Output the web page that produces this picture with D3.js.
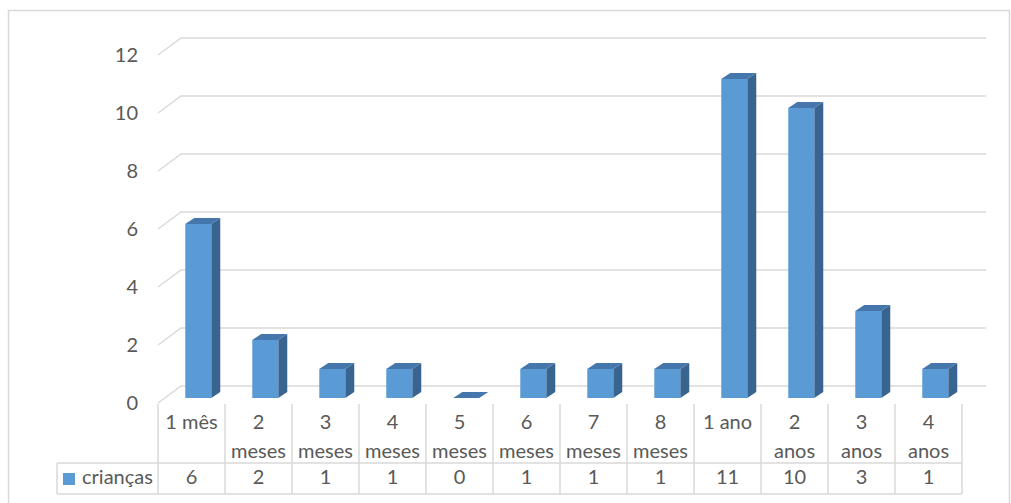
<!DOCTYPE html>
<html>
<head>
<meta charset="utf-8">
<script src="https://cdn.jsdelivr.net/npm/d3@7"></script>
<style>
  html, body { margin: 0; padding: 0; background: #fff; }
  svg { display: block; }
  text { font-family: Lato, "Open Sans", sans-serif; fill: #595959; }
</style>
</head>
<body>
<svg id="chart" width="1011" height="503"></svg>
<script>
// Chart data
const categories = ["1 mês", "2 meses", "3 meses", "4 meses", "5 meses", "6 meses",
                    "7 meses", "8 meses", "1 ano", "2 anos", "3 anos", "4 anos"];
const seriesName = "crianças";
const values = [6, 2, 1, 1, 0, 1, 1, 1, 11, 10, 3, 1];
const yTicks = [0, 2, 4, 6, 8, 10, 12];

const svg = d3.select("#chart");

const gridColor = "#D9D9D9";
const frontColor = "#5B9BD5";
const topColor = "#4677AC";
const sideColor = "#38648F";

// Outer chart border
svg.append("rect")
  .attr("x", 8.5).attr("y", 10.5)
  .attr("width", 1001).attr("height", 520)
  .attr("fill", "none").attr("stroke", gridColor).attr("stroke-width", 1.5);

// Layout: front plane (floor front edge / table) and 3D depth offset of the walls
const plotLeft = 158, plotRight = 962;
const wallDx = 23, wallDy = -17;     // back wall relative to front edge
const floorFrontY = 403;

// Category scale along the front edge (also the table columns)
const x = d3.scaleBand().domain(categories).range([plotLeft, plotRight]).padding(0);

// Value scale on the back wall
const yBack = d3.scaleLinear().domain([0, 12]).range([floorFrontY + wallDy, 38]);
const pxPerUnit = yBack(0) - yBack(1);

// Gridlines: diagonal on the side wall, horizontal along the back wall
const grid = svg.append("g").attr("stroke", gridColor).attr("stroke-width", 1.5).attr("fill", "none");
yTicks.forEach(t => {
  const yb = yBack(t);
  grid.append("path")
    .attr("d", `M${plotLeft},${yb - wallDy} L${plotLeft + wallDx},${yb} L${plotRight + wallDx + 1},${yb}`);
});

const fontSize = 20;

// Y axis labels on the front edge of the side wall
svg.append("g").selectAll("text").data(yTicks).join("text")
  .attr("x", 138)
  .attr("y", d => yBack(d) - wallDy + 2)
  .attr("text-anchor", "end")
  .attr("dominant-baseline", "middle")
  .attr("font-size", fontSize)
  .text(d => d);

// Bars: sit slightly behind the front floor edge
const barDepthFrac = 5 / 17;
const barShiftX = wallDx * barDepthFrac;
const barBaseY = floorFrontY + wallDy * barDepthFrac;
const barW = 26;
const bdx = 9, bdy = -6;   // bar's own depth

const bars = svg.append("g").selectAll("g").data(values).join("g");
bars.each(function(v, i) {
  const g = d3.select(this);
  const cx = x(categories[i]) + x.bandwidth() / 2 + barShiftX;
  const x0 = cx - barW / 2, x1 = cx + barW / 2;
  const yTop = barBaseY - v * pxPerUnit;
  const yBot = barBaseY;
  // right side face
  if (v > 0) {
    g.append("path")
      .attr("d", `M${x1},${yTop} L${x1 + bdx},${yTop + bdy} L${x1 + bdx},${yBot + bdy} L${x1},${yBot} Z`)
      .attr("fill", sideColor);
  }
  // top face
  g.append("path")
    .attr("d", `M${x0},${yTop} L${x0 + bdx},${yTop + bdy} L${x1 + bdx},${yTop + bdy} L${x1},${yTop} Z`)
    .attr("fill", topColor);
  // front face
  if (v > 0) {
    g.append("rect")
      .attr("x", x0).attr("y", yTop)
      .attr("width", barW).attr("height", yBot - yTop)
      .attr("fill", frontColor);
  }
});

// Data table below the plot
const tableTop = 404, rowSplit = 463, tableBottom = 494, legendLeft = 57;
const tbl = svg.append("g").attr("stroke", gridColor).attr("stroke-width", 1.5).attr("fill", "none");
d3.range(categories.length + 1).forEach(k => {
  const xx = plotLeft + k * x.bandwidth();
  tbl.append("line").attr("x1", xx).attr("x2", xx).attr("y1", tableTop).attr("y2", tableBottom);
});
tbl.append("line").attr("x1", legendLeft).attr("x2", plotRight).attr("y1", rowSplit).attr("y2", rowSplit);
tbl.append("line").attr("x1", legendLeft).attr("x2", plotRight).attr("y1", tableBottom).attr("y2", tableBottom);
tbl.append("line").attr("x1", legendLeft).attr("x2", legendLeft).attr("y1", rowSplit).attr("y2", tableBottom);

// Category labels, wrapped when wider than the usable cell width
const wrapWidth = 54;
const catG = svg.append("g");
categories.forEach(c => {
  const cx = x(c) + x.bandwidth() / 2;
  const probe = catG.append("text").attr("font-size", fontSize).text(c);
  const fits = probe.node().getComputedTextLength() <= wrapWidth;
  probe.remove();
  const lines = fits ? [c] : c.split(" ");
  lines.forEach((ln, j) => {
    catG.append("text")
      .attr("x", cx).attr("y", 424 + j * 29)
      .attr("text-anchor", "middle")
      .attr("dominant-baseline", "middle")
      .attr("font-size", fontSize)
      .text(ln);
  });
});

// Value row
svg.append("g").selectAll("text").data(values).join("text")
  .attr("x", (d, i) => x(categories[i]) + x.bandwidth() / 2)
  .attr("y", 479)
  .attr("text-anchor", "middle")
  .attr("dominant-baseline", "middle")
  .attr("font-size", fontSize)
  .text(d => d);

// Legend key in the table's first cell
svg.append("rect")
  .attr("x", 63).attr("y", 473).attr("width", 12).attr("height", 12)
  .attr("fill", frontColor);
svg.append("text")
  .attr("x", 82).attr("y", 479)
  .attr("dominant-baseline", "middle")
  .attr("font-size", fontSize)
  .text(seriesName);
</script>
</body>
</html>
